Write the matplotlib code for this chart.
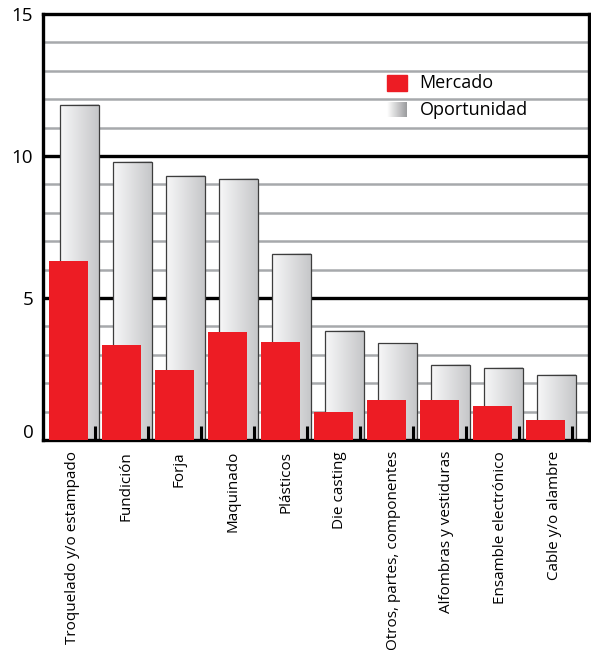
import numpy as np
import matplotlib.pyplot as plt
import matplotlib.transforms as mtransforms
from matplotlib.colors import LinearSegmentedColormap
from matplotlib.patches import Rectangle

# Data
categories = [
    "Troquelado y/o estampado",
    "Fundición",
    "Forja",
    "Maquinado",
    "Plásticos",
    "Die casting",
    "Otros, partes, componentes",
    "Alfombras y vestiduras",
    "Ensamble electrónico",
    "Cable y/o alambre",
]
mercado = [6.3, 3.35, 2.45, 3.8, 3.45, 1.0, 1.4, 1.4, 1.2, 0.7]
oportunidad = [11.8, 9.8, 9.3, 9.2, 6.55, 3.85, 3.4, 2.65, 2.55, 2.3]
y_ticks = [0, 5, 10, 15]

plt.rcParams["font.family"] = ["Open Sans", "DejaVu Sans"]

fig = plt.figure(figsize=(5.91, 6.5), dpi=100)
ax = fig.add_axes([43 / 591, 1 - 440 / 650, 546 / 591, 426 / 650])

x = np.arange(len(categories))
w = 0.735
shift = 0.21

# Opportunity bars with a horizontal gradient
grad = np.linspace(0, 1, 64).reshape(1, -1)
bar_cmap = LinearSegmentedColormap.from_list("bar", ["#f7f7f8", "#c6c7c9"])
for xi, v in zip(x, oportunidad):
    ax.imshow(grad, extent=[xi + shift - w / 2, xi + shift + w / 2, 0, v],
              aspect="auto", cmap=bar_cmap, zorder=1.5, interpolation="bilinear")
    ax.add_patch(Rectangle((xi + shift - w / 2, 0), w, v, fill=False,
                           edgecolor="#3d3d3d", lw=0.9, zorder=1.6))

# Market bars in front
ax.bar(x, mercado, width=w, color="#ed1c24", zorder=3)

# Horizontal grid: gray every unit, black every 5
for yv in range(1, 15):
    if yv % 5:
        ax.axhline(yv, color="#a7a9ac", lw=1.8, zorder=0.5)
    else:
        ax.axhline(yv, color="black", lw=2.4, zorder=0.6)

ax.set_xlim(-0.481, 9.82)
ax.set_ylim(0, 15)

for sp in ax.spines.values():
    sp.set_linewidth(2.4)
    sp.set_color("black")

ax.set_yticks(y_ticks)
ax.set_yticklabels([str(t) for t in y_ticks])
ax.tick_params(axis="y", length=0, labelsize=13.5, pad=7)
lab0 = ax.get_yticklabels()[0]
lab0.set_transform(lab0.get_transform()
                   + mtransforms.ScaledTranslation(0, 0.09, fig.dpi_scale_trans))

ax.set_xticks(x * 1.01 + 0.07)
ax.set_xticklabels(categories, rotation=90, va="top", ha="center")
ax.tick_params(axis="x", which="major", length=0, labelsize=11, pad=8)
ax.set_xticks(x + 0.5, minor=True)
ax.tick_params(axis="x", which="minor", direction="in", length=10,
               width=2.2, color="black")

# Legend drawn by hand
ax.add_patch(Rectangle((0.630, 0.819), 0.0366, 0.0376, transform=ax.transAxes,
                       color="#ed1c24", zorder=4))
leg_cmap = LinearSegmentedColormap.from_list("leg", ["#ffffff", "#9b9c9e"])
lax = ax.inset_axes([0.630, 0.758, 0.0366, 0.035])
lax.imshow(grad, aspect="auto", cmap=leg_cmap, interpolation="bilinear")
lax.axis("off")
ax.text(0.690, 0.838, "Mercado", transform=ax.transAxes, fontsize=13,
        va="center", ha="left", zorder=4)
ax.text(0.690, 0.775, "Oportunidad", transform=ax.transAxes, fontsize=13,
        va="center", ha="left", zorder=4)

fig.savefig("out.png", dpi=100)
